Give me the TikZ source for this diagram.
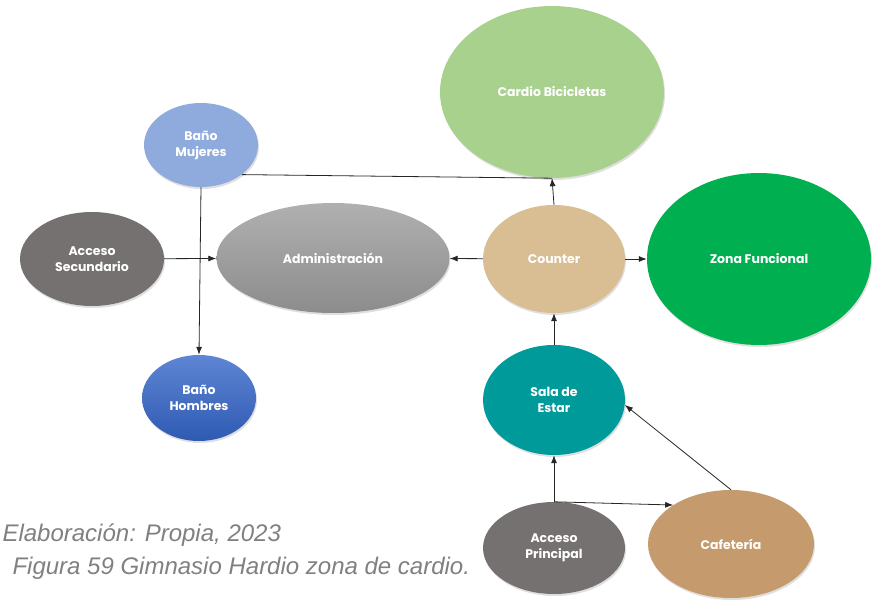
\documentclass[tikz,border=0pt]{standalone}
\usepackage{fontspec}
\usepackage{xcolor}
\usepackage{tikz}
\usetikzlibrary{shapes.geometric, arrows.meta, positioning, calc, shadows}
\newfontfamily\zonefont{Poppins}
\newfontfamily\capfont{Liberation Sans}
\definecolor{cardioGreen}{HTML}{A9D18E}
\definecolor{mujBlue}{HTML}{8FAADC}
\definecolor{accGray}{HTML}{767171}
\definecolor{counterTan}{HTML}{D8BE92}
\definecolor{zonaGreen}{HTML}{00B050}
\definecolor{salaTeal}{HTML}{009A9A}
\definecolor{cafeBrown}{HTML}{C59A6D}
\definecolor{homTop}{HTML}{5F86D4}
\definecolor{homBot}{HTML}{2F5AB3}
\definecolor{admTop}{HTML}{B0B0B0}
\definecolor{admBot}{HTML}{8C8C8C}
\definecolor{capGray}{HTML}{808080}
\tikzstyle{zone} = [ellipse, inner sep=0pt, align=center, text=white, font=\zonefont\bfseries\fontsize{12.5}{16}\selectfont, drop shadow={opacity=0.25, shadow xshift=1pt, shadow yshift=-2pt}]
\tikzstyle{arrow} = [-{Latex[length=8pt,width=6pt]}, draw=black!85, line width=0.8pt]
\tikzstyle{caption} = [anchor=west, text=capGray, font=\capfont\itshape\fontsize{24}{28}\selectfont]
\begin{document}
\begin{tikzpicture}[x=1pt, y=-1pt]
\useasboundingbox (0,0) rectangle (872,601);

\node [zone, fill=cardioGreen, minimum width=224pt, minimum height=172pt] (cardio) at (552,92) {Cardio Bicicletas};
\node [zone, fill=mujBlue, minimum width=114pt, minimum height=84pt] (mujeres) at (201,145) {Baño\\Mujeres};
\node [zone, fill=accGray, minimum width=144pt, minimum height=94pt] (acsec) at (92,259) {Acceso\\Secundario};
\node [zone, top color=admTop, bottom color=admBot, minimum width=233pt, minimum height=110pt] (admin) at (333,258) {Administración};
\node [zone, fill=counterTan, minimum width=142pt, minimum height=108pt] (counter) at (554,259) {Counter};
\node [zone, fill=zonaGreen, minimum width=224pt, minimum height=172pt] (zona) at (759,259) {Zona Funcional};
\node [zone, top color=homTop, bottom color=homBot, minimum width=114pt, minimum height=86pt] (hombres) at (199,398) {Baño\\Hombres};
\node [zone, fill=salaTeal, minimum width=142pt, minimum height=110pt] (sala) at (554,400) {Sala de\\Estar};
\node [zone, fill=accGray, minimum width=142pt, minimum height=92pt] (acprin) at (554,548) {Acceso\\Principal};
\node [zone, fill=cafeBrown, minimum width=166pt, minimum height=108pt] (cafe) at (731,544) {Cafetería};

\draw [draw=black!85, line width=0.8pt] (mujeres.-36) -- (cardio.south);
\draw [arrow] (counter.north) -- (cardio.south);
\draw [arrow] (mujeres.south) -- (hombres.north);
\draw [arrow] (acsec) -- (admin);
\draw [arrow] (counter) -- (admin);
\draw [arrow] (counter) -- (zona);
\draw [arrow] (sala) -- (counter);
\draw [arrow] (acprin) -- (sala);
\draw [arrow] (acprin.north) -- (cafe.146);
\draw [arrow] (cafe.north) -- (sala.-4);

\node [caption] (elab) at (-1,535) {Elaboración: Propia, 2023};
\node [caption] (fig) at (9,568) {Figura 59 Gimnasio Hardio zona de cardio.};
\end{tikzpicture}
\end{document}
